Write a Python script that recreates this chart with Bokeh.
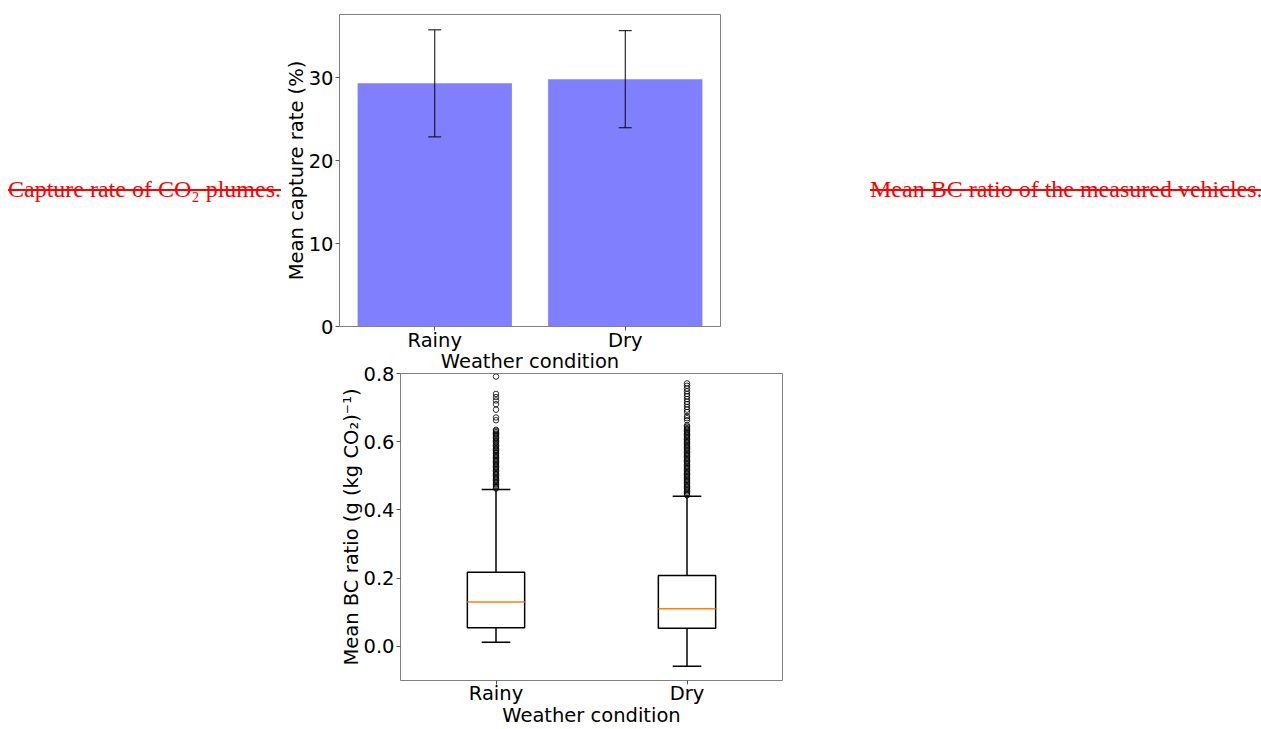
from bokeh.plotting import figure
from bokeh.models import (Range1d, FactorRange, FixedTicker, ColumnDataSource, Div, Spacer,
                          NumeralTickFormatter)
from bokeh.layouts import row, column
from bokeh.transform import dodge
from bokeh.embed import file_html
from bokeh.resources import INLINE

# ---------------- data ----------------
conditions = ["Rainy", "Dry"]

# top chart: mean capture rate with error bars
capture_mean = [29.3, 29.8]
capture_err = [6.45, 5.85]
capture_ticks = [0, 10, 20, 30]

# bottom chart: box plot statistics of mean BC ratio
bc_q1 = [0.055, 0.053]
bc_median = [0.130, 0.110]
bc_q3 = [0.217, 0.208]
bc_whisker_low = [0.0125, -0.058]
bc_whisker_high = [0.460, 0.440]
bc_ticks = [0.0, 0.2, 0.4, 0.6, 0.8]

rainy_outliers = [0.791, 0.740, 0.731, 0.721, 0.710, 0.694, 0.671, 0.663, 0.635, 0.632,
                  0.628, 0.624, 0.621, 0.617, 0.612, 0.609, 0.604, 0.600, 0.597, 0.593,
                  0.589, 0.586, 0.581, 0.577, 0.574, 0.570, 0.566, 0.561, 0.558, 0.554,
                  0.550, 0.546, 0.543, 0.539, 0.535, 0.531, 0.527, 0.524, 0.520, 0.516,
                  0.512, 0.508, 0.505, 0.501, 0.497, 0.493, 0.489, 0.486, 0.482, 0.478,
                  0.474, 0.470, 0.467, 0.463]
dry_outliers = [0.771, 0.764, 0.756, 0.748, 0.740, 0.733, 0.725, 0.717, 0.710, 0.702,
                0.694, 0.687, 0.675, 0.669, 0.663, 0.648, 0.644, 0.640, 0.637, 0.633,
                0.629, 0.625, 0.621, 0.618, 0.614, 0.610, 0.606, 0.602, 0.599, 0.595,
                0.591, 0.587, 0.583, 0.580, 0.576, 0.572, 0.568, 0.564, 0.561, 0.557,
                0.553, 0.549, 0.545, 0.542, 0.538, 0.534, 0.530, 0.526, 0.523, 0.519,
                0.515, 0.511, 0.507, 0.504, 0.500, 0.496, 0.492, 0.488, 0.485, 0.481,
                0.477, 0.473, 0.469, 0.466, 0.462, 0.458, 0.454, 0.450, 0.447, 0.443]

caption_left = "Capture rate of CO\u2082 plumes."
caption_right = "Mean BC ratio of the measured vehicles."
x_label = "Weather condition"

FONT = "DejaVu Sans"
FSIZE = "19.5px"


def style(p, xlabel, ylabel):
    p.xgrid.visible = False
    p.ygrid.visible = False
    p.outline_line_color = "#808080"
    p.outline_line_width = 1
    p.background_fill_color = "white"
    p.border_fill_color = None
    p.xaxis.axis_label = xlabel
    p.yaxis.axis_label = ylabel
    for ax in (p.xaxis[0], p.yaxis[0]):
        ax.axis_line_color = None
        ax.major_tick_line_color = "#555555"
        ax.major_tick_out = 4
        ax.major_tick_in = 0
        ax.minor_tick_line_color = None
        ax.major_label_text_font = FONT
        ax.major_label_text_font_size = FSIZE
        ax.major_label_text_color = "black"
        ax.axis_label_text_font = FONT
        ax.axis_label_text_font_size = FSIZE
        ax.axis_label_text_font_style = "normal"
        ax.axis_label_text_color = "black"


# ---------------- top chart ----------------
p1 = figure(x_range=FactorRange(*conditions), y_range=Range1d(0, 37.6),
            width=459, height=375, min_border_left=58, min_border_right=20,
            min_border_top=14, min_border_bottom=49,
            output_backend="svg", toolbar_location=None, margin=(0, 0, 0, 0))
style(p1, x_label, "Mean capture rate (%)")
p1.yaxis.ticker = FixedTicker(ticks=capture_ticks)
p1.yaxis.major_label_standoff = 2
p1.yaxis.axis_label_standoff = -2
p1.xaxis.major_label_standoff = -2
p1.xaxis.axis_label_standoff = -5

src1 = ColumnDataSource(dict(
    cond=conditions,
    mean=capture_mean,
    lo=[m - e for m, e in zip(capture_mean, capture_err)],
    hi=[m + e for m, e in zip(capture_mean, capture_err)],
))
p1.vbar(x="cond", top="mean", bottom=0, width=0.81, source=src1,
        fill_color="#8080ff", line_color=None)
p1.segment(x0="cond", x1="cond", y0="lo", y1="hi", source=src1,
           line_color="black", line_width=1)
for col in ("lo", "hi"):
    p1.segment(x0=dodge("cond", -0.034, range=p1.x_range),
               x1=dodge("cond", 0.034, range=p1.x_range),
               y0=col, y1=col, source=src1, line_color="black", line_width=1)

# ---------------- bottom chart ----------------
p2 = figure(x_range=FactorRange(*conditions), y_range=Range1d(-0.1, 0.8),
            width=455, height=382, min_border_left=63, min_border_right=10,
            min_border_top=26, min_border_bottom=49,
            output_backend="svg", toolbar_location=None, margin=(-28, 0, 0, 0))
style(p2, x_label, "Mean BC ratio (g (kg CO\u2082)\u207b\u00b9)")
p2.yaxis.ticker = FixedTicker(ticks=bc_ticks)
p2.yaxis.formatter = NumeralTickFormatter(format="0.0")
p2.yaxis.major_label_standoff = 2
p2.yaxis.axis_label_standoff = -3
p2.xaxis.major_label_standoff = -3
p2.xaxis.axis_label_standoff = -4

src2 = ColumnDataSource(dict(cond=conditions, q1=bc_q1, med=bc_median, q3=bc_q3,
                             wlo=bc_whisker_low, whi=bc_whisker_high))
# whiskers
p2.segment(x0="cond", x1="cond", y0="q3", y1="whi", source=src2, line_color="black", line_width=1.5)
p2.segment(x0="cond", x1="cond", y0="q1", y1="wlo", source=src2, line_color="black", line_width=1.5)
for col in ("wlo", "whi"):
    p2.segment(x0=dodge("cond", -0.075, range=p2.x_range),
               x1=dodge("cond", 0.075, range=p2.x_range),
               y0=col, y1=col, source=src2, line_color="black", line_width=1.5)
# boxes
p2.vbar(x="cond", top="q3", bottom="q1", width=0.3, source=src2,
        fill_color="white", line_color="black", line_width=1.5)
# medians
p2.segment(x0=dodge("cond", -0.15, range=p2.x_range),
           x1=dodge("cond", 0.15, range=p2.x_range),
           y0="med", y1="med", source=src2, line_color="#ff7f0e", line_width=1.5)
# outliers
out_src = ColumnDataSource(dict(
    cond=["Rainy"] * len(rainy_outliers) + ["Dry"] * len(dry_outliers),
    val=rainy_outliers + dry_outliers,
))
p2.scatter(x="cond", y="val", source=out_src, marker="circle", size=5.5,
           fill_color=None, line_color="black", line_width=0.8)

# ---------------- captions ----------------
txt_style = ("font-family:'Liberation Serif';font-size:24px;color:#ff0000;"
             "text-decoration:line-through;white-space:nowrap;line-height:normal;")
d1 = Div(text=f'<div style="{txt_style}padding-top:176px;padding-left:8px;">{caption_left}</div>',
         width=281, height=375, margin=(0, 0, 0, 0))
d2 = Div(text=f'<div style="{txt_style}padding-top:176px;padding-left:130px;">{caption_right}</div>',
         width=521, height=375, margin=(0, 0, 0, 0))

layout = column(row(d1, p1, d2, margin=(0, 0, 0, 0)),
                row(Spacer(width=337, height=10, margin=(0, 0, 0, 0)), p2, margin=(0, 0, 0, 0)),
                margin=(0, 0, 0, 0))

open("out.html", "w").write(file_html(layout, INLINE))
